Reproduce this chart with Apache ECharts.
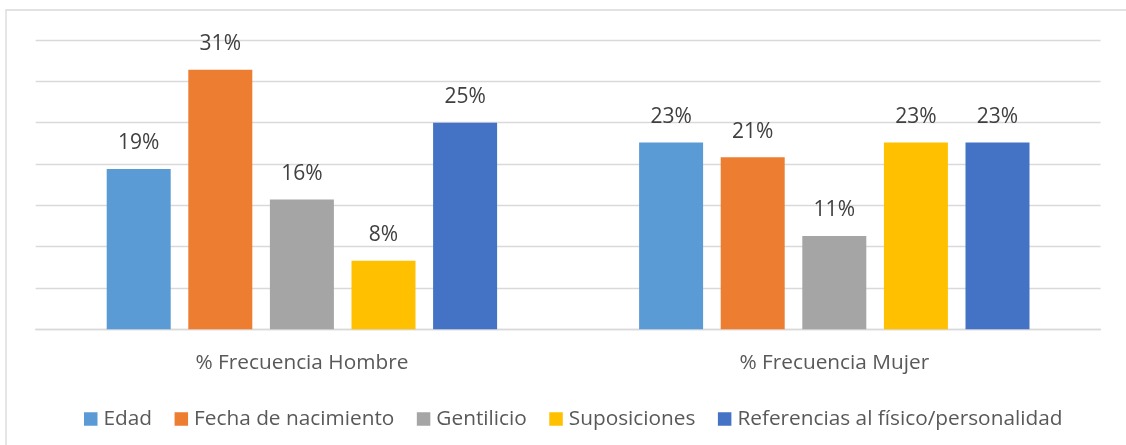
<!DOCTYPE html>
<html>
<head>
<meta charset="utf-8">
<script src="https://cdn.jsdelivr.net/npm/echarts@6/dist/echarts.min.js"></script>
<style>
  html, body { margin: 0; padding: 0; background: #fff; }
  #chart { width: 1126px; height: 445px; }
</style>
</head>
<body>
<div id="chart"></div>
<script>
var categories = ['% Frecuencia Hombre', '% Frecuencia Mujer'];
var seriesNames = ['Edad', 'Fecha de nacimiento', 'Gentilicio', 'Suposiciones', 'Referencias al físico/personalidad'];
var edad = [19.4, 22.6];
var fecha = [31.4, 20.8];
var gentilicio = [15.7, 11.3];
var suposiciones = [8.3, 22.6];
var referencias = [25.0, 22.6];
var colors = ['#5B9BD5', '#ED7D31', '#A5A5A5', '#FFC000', '#4472C4'];

var chart = echarts.init(document.getElementById('chart'));
var font = '"Open Sans", "Liberation Sans", sans-serif';

function makeSeries(name, data, color) {
  return {
    name: name,
    type: 'bar',
    data: data,
    barWidth: 64,
    barGap: '27.5%',
    itemStyle: {color: color},
    label: {
      show: true,
      position: 'top',
      distance: 15,
      fontFamily: font,
      fontSize: 21,
      lineHeight: 21,
      color: '#404040',
      formatter: function(p) {
        return Math.round(p.value) + '%';
      },
    },
  };
}

var options = {
  animation: false,
  textStyle: {fontFamily: font},
  graphic: [{
    type: 'rect',
    shape: {x: 6, y: 10, width: 1140, height: 460},
    style: {fill: 'none', stroke: '#D9D9D9', lineWidth: 1.3},
    silent: true,
  }],
  grid: {
    left: 35.7,
    right: 25.5,
    top: 40,
    bottom: 115.7,
  },
  legend: {
    data: seriesNames,
    left: 84,
    top: 408.5,
    padding: 0,
    itemWidth: 13.5,
    itemHeight: 13.5,
    itemGap: 22.5,
    icon: 'rect',
    textStyle: {
      fontFamily: font,
      fontSize: 20.8,
      lineHeight: 21,
      padding: [0, 0, 0, 1],
      color: '#595959',
    },
  },
  xAxis: {
    type: 'category',
    data: categories,
    axisLine: {lineStyle: {color: '#D9D9D9', width: 1.3}},
    axisTick: {show: false},
    axisLabel: {
      margin: 23,
      fontFamily: font,
      fontSize: 20.8,
      lineHeight: 22,
      color: '#595959',
    },
  },
  yAxis: {
    type: 'value',
    min: 0,
    max: 35,
    interval: 5,
    axisLabel: {show: false},
    axisLine: {show: false},
    axisTick: {show: false},
    splitLine: {lineStyle: {color: '#D9D9D9', width: 1.3}},
  },
  series: [
    makeSeries(seriesNames[0], edad, colors[0]),
    makeSeries(seriesNames[1], fecha, colors[1]),
    makeSeries(seriesNames[2], gentilicio, colors[2]),
    makeSeries(seriesNames[3], suposiciones, colors[3]),
    makeSeries(seriesNames[4], referencias, colors[4]),
  ],
};
chart.setOption(options);
</script>
</body>
</html>
